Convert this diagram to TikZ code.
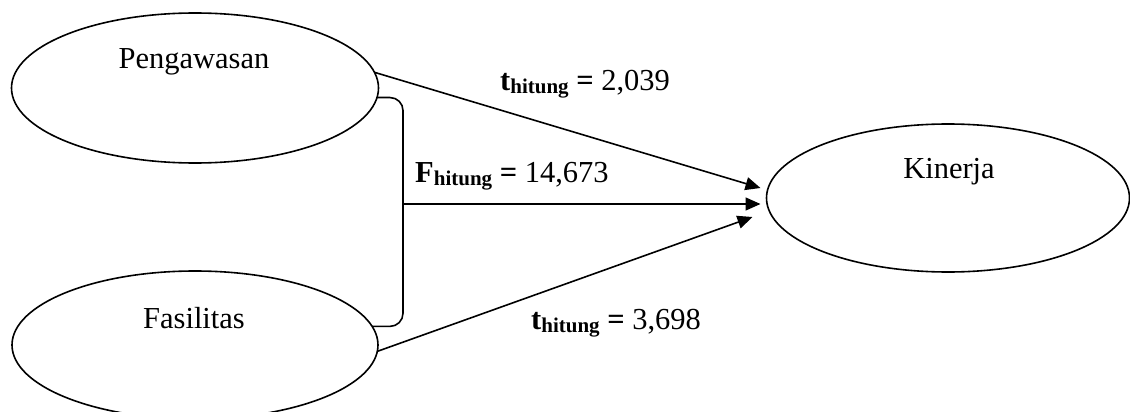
\documentclass[tikz,border=0pt]{standalone}
\usepackage{fontspec}
\setmainfont{Liberation Serif}
\usetikzlibrary{shapes.geometric,arrows.meta}
\newcommand\hit[1]{\textbf{#1}\raisebox{-3.5pt}{\fontsize{21}{24}\selectfont\bfseries hitung}}
\begin{document}
\begin{tikzpicture}[x=1pt,y=-1pt,
  ell/.style={draw, ellipse, line width=1.6pt, inner sep=0pt, outer sep=0pt},
  txt/.style={font=\fontsize{30.5}{36}\selectfont, inner sep=0pt},
  lbl/.style={font=\fontsize{30.5}{36}\selectfont, inner sep=0pt, anchor=base west},
  con/.style={line width=1.6pt},
  arr/.style={con, -{Triangle[length=15pt,width=13pt]}}]
\useasboundingbox (0,0) rectangle (1130,412);
\clip (0,0) rectangle (1130,412);
\node[ell, minimum width=367pt, minimum height=150pt] (pen) at (195,88) {};
\node[ell, minimum width=366pt, minimum height=148pt] (fas) at (195,345) {};
\node[ell, minimum width=363pt, minimum height=148pt] (kin) at (948,198) {};
\node[txt] (tpen) at (194,62) {Pengawasan};
\node[txt] (tfas) at (194,318) {Fasilitas};
\node[txt] (tkin) at (949,172) {Kinerja};
\coordinate (br) at (403,204);
\draw[con, rounded corners=13pt] (pen.-3.1) -| (br) |- (fas.6.5);
\draw[arr] (pen.5.6) -- ([xshift=-6pt,yshift=10pt]kin.west);
\draw[arr] (br) -- ([xshift=-6pt,yshift=-6pt]kin.west);
\draw[arr] (fas.-2.5) -- ([xshift=-14pt,yshift=-19pt]kin.west);
\node[lbl] (l1) at (500,90) {\hit{t} \textbf{=} 2,039};
\node[lbl] (l2) at (415,182) {\hit{F} \textbf{=} 14,673};
\node[lbl] (l3) at (531,329) {\hit{t} \textbf{=} 3,698};
\end{tikzpicture}
\end{document}
